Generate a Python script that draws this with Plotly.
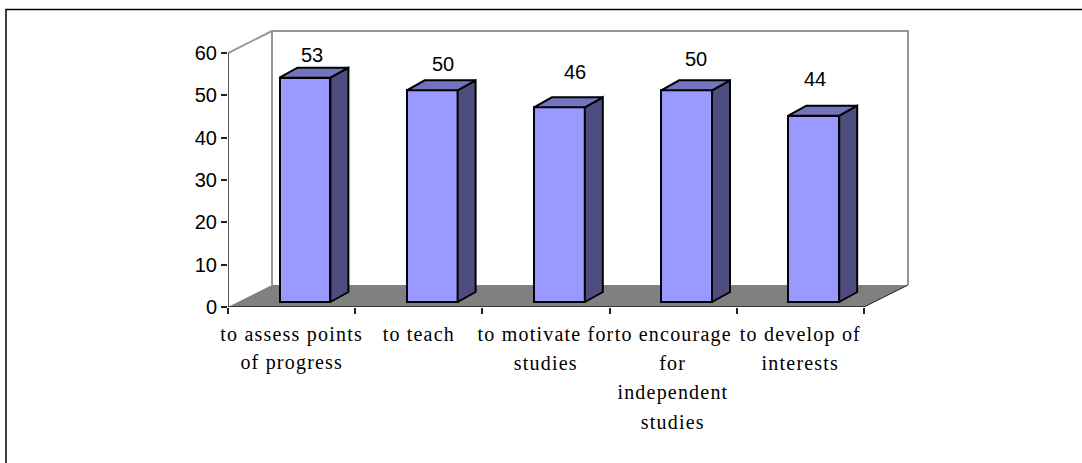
import plotly.graph_objects as go

categories = ["to assess points of progress", "to teach", "to motivate for studies",
              "to encourage for independent studies", "to develop of interests"]
label_lines = [["to assess points", "of progress"], ["to teach"], ["to motivate for", "studies"],
               ["to encourage", "for", "independent", "studies"], ["to develop of", "interests"]]
values = [53, 50, 46, 50, 44]
y_ticks = [0, 10, 20, 30, 40, 50, 60]

# plot geometry, in screen pixels
W, H = 1082, 463
X0, Y0 = 228, 307          # where x=0 and y=0 fall
PX_X, PX_Y = 127.2, 254 / 60
WALL_DX, WALL_DY = 44, 22  # chart depth
BAR_LIFT, BAR_DX, BAR_DY = 5, 18, 10
BAR_W = 0.40
BAR_SHIFT = 0.105
RIGHT, TOP = 912, 27

FRONT, TOPC, SIDE = "#9999FF", "#7373BF", "#4D4D80"
FLOOR, WALL, FRAME = "#808080", "#969696", "#000000"
AXIS = "#222222"
SERIF, SANS = "Liberation Serif", "Liberation Sans"
LABEL_SHIFT = [(7, 23), (11, 26), (15.5, 35), (9, 31), (1, 37)]  # label offset from bar top, px

wx, wy = WALL_DX / PX_X, WALL_DY / PX_Y
bx, by = BAR_DX / PX_X, BAR_DY / PX_Y
lift = BAR_LIFT / PX_Y
n = len(values)
xmax = (RIGHT - X0) / PX_X
ymax = (Y0 - TOP) / PX_Y
ytop = y_ticks[-1]


def line(xs, ys, color, width):
    return go.Scatter(x=xs, y=ys, mode="lines", line=dict(color=color, width=width),
                      hoverinfo="skip", showlegend=False, cliponaxis=False)


def poly(xs, ys, fill):
    return go.Scatter(x=xs, y=ys, mode="lines", fill="toself", fillcolor=fill,
                      line=dict(color="#000000", width=2), hoverinfo="skip",
                      showlegend=False, cliponaxis=False)


fig = go.Figure()
centers = [i + 0.5 + BAR_SHIFT for i in range(n)]
fig.add_trace(go.Bar(x=centers, y=values, base=[lift] * n, width=BAR_W,
                     marker=dict(color=FRONT, line=dict(color="#000000", width=2)),
                     showlegend=False, hoverinfo="skip"))
for c, v in zip(centers, values):
    r, l, t = c + BAR_W / 2, c - BAR_W / 2, v + lift
    fig.add_trace(poly([r, r + bx, r + bx, r, r], [lift, lift + by, t + by, t, lift], SIDE))
    fig.add_trace(poly([l, l + bx, r + bx, r, l], [t, t + by, t + by, t, t], TOPC))

# walls and axes
fig.add_trace(line([0, wx], [ytop, ytop + wy], WALL, 2))
fig.add_trace(line([0, 0], [0, ytop], AXIS, 1.5))
fig.add_trace(line([0, n], [0, 0], AXIS, 1.5))
fig.add_trace(line([n, n + wx], [0, wy], AXIS, 1))

shapes = [
    dict(type="path", xref="x", yref="y", layer="below", line=dict(width=0), fillcolor=FLOOR,
         path=f"M 0 0 L {n} 0 L {n + wx} {wy} L {wx} {wy} Z"),
    dict(type="path", xref="x", yref="y", layer="below", line=dict(color=WALL, width=2),
         path=f"M {wx} {wy} L {wx} {ytop + wy} L {n + wx} {ytop + wy} L {n + wx} {wy}"),
    dict(type="rect", xref="paper", yref="paper", layer="below", line=dict(color=FRAME, width=1.5),
         x0=(6 - X0) / (RIGHT - X0), x1=(1100 - X0) / (RIGHT - X0),
         y0=(Y0 - 480) / (Y0 - TOP), y1=(Y0 - 9.5) / (Y0 - TOP)),
]

ann = []
for c, v, (dx, dy) in zip(centers, values, LABEL_SHIFT):
    ann.append(dict(x=c, y=v + lift, text=str(v), showarrow=False, xshift=dx, yshift=dy,
                    font=dict(family=SANS, size=20, color="#000000")))
for i, lines in enumerate(label_lines):
    for k, t in enumerate(lines[1:], start=1):
        ann.append(dict(x=i + 0.5, y=0, text=t, showarrow=False, yshift=-26 - 29.6 * k,
                        font=dict(family=SERIF, size=20, color="#000000")))

fig.update_layout(
    width=W, height=H, margin=dict(l=X0, r=W - RIGHT, t=TOP, b=H - Y0),
    paper_bgcolor="#FFFFFF", plot_bgcolor="rgba(0,0,0,0)", showlegend=False,
    shapes=shapes, annotations=ann, bargap=0,
    xaxis=dict(range=[0, xmax], showgrid=False, zeroline=False, showline=False,
               tickmode="array", tickvals=[i + 0.5 for i in range(n)],
               ticktext=[l[0] for l in label_lines], ticks="", ticklen=0, tickangle=0,
               ticklabelstandoff=13,
               tickfont=dict(family=SERIF, size=20, color="#000000"),
               minor=dict(tickmode="array", tickvals=list(range(n + 1)), ticks="outside",
                          ticklen=6, tickwidth=1.5, tickcolor=AXIS, showgrid=False)),
    yaxis=dict(range=[0, ymax], showgrid=False, zeroline=False, showline=False,
               tickmode="array", tickvals=y_ticks, ticks="outside", ticklen=6,
               tickwidth=1.5, tickcolor=AXIS,
               tickfont=dict(family=SANS, size=20, color="#000000")),
)
post = """
document.body.style.margin='0';document.body.style.overflow='hidden';
document.querySelectorAll('text').forEach(function(t){
  if((t.style.fontFamily||'').indexOf('Serif')>=0){t.style.letterSpacing='1.2px';}
});
"""
fig.write_html("out.html", post_script=post, config={"displayModeBar": False})
